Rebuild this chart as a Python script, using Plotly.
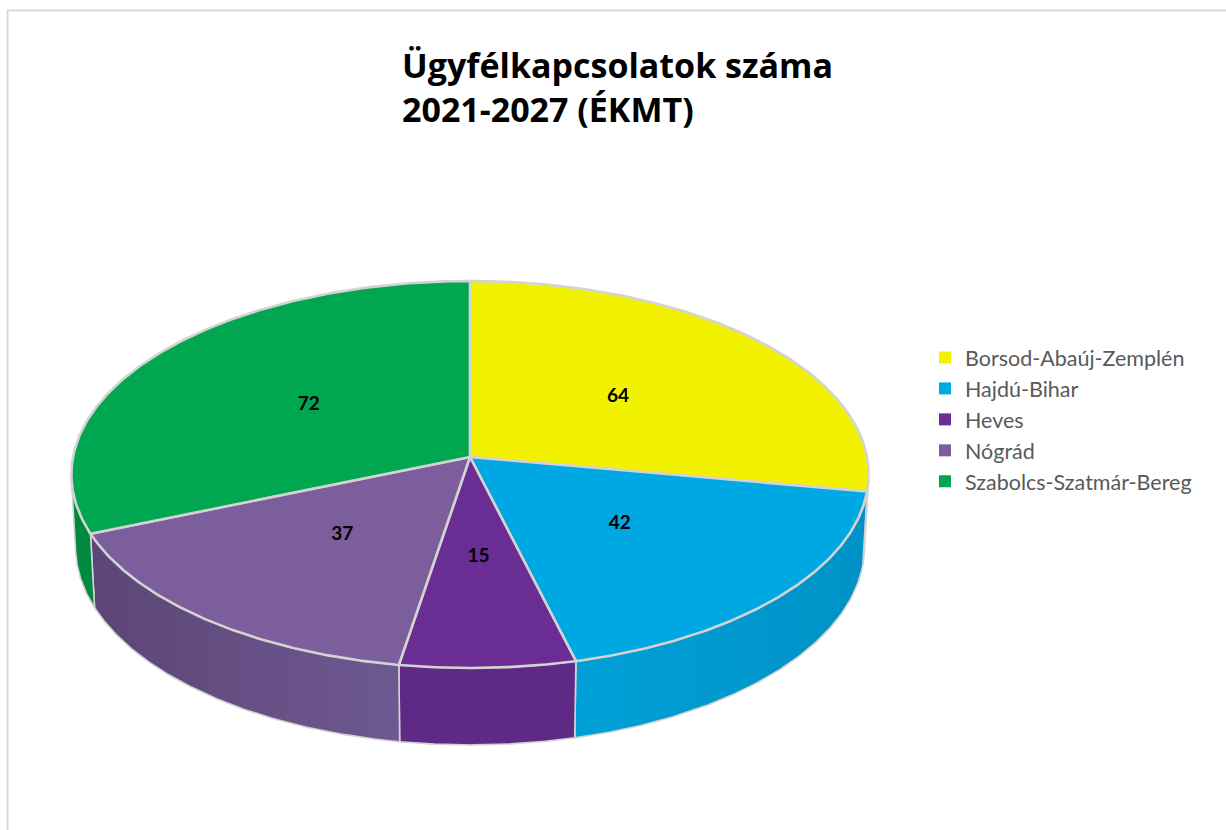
import numpy as np
import plotly.graph_objects as go

# ---- data ----
categories = ["Borsod-Abaúj-Zemplén", "Hajdú-Bihar", "Heves", "Nógrád", "Szabolcs-Szatmár-Bereg"]
values = [64, 42, 15, 37, 72]
title_lines = ["Ügyfélkapcsolatok száma", "2021-2027 (ÉKMT)"]

# ---- styles ----
top_colors = ["#f2f200", "#00a8e3", "#6a2d93", "#7b5e9b", "#00a650"]
side_left = ["#d4d400", "#00a0d7", "#5f2a86", "#5c4676", "#008a3f"]
side_right = ["#dada00", "#0092c6", "#5f2a86", "#6e5891", "#008a3f"]
EDGE = "#d3d3d3"
W, H = 1226, 830

# ---- simple perspective model of a tilted disc ----
CX, CY = 470.0, 457.0
P = 3839.0          # focal scale (px)
DR = 9.67           # camera distance / radius
SIN_E, COS_E = 0.4835, 0.875
THICK = 0.21        # pie thickness / radius
VIS_LO, VIS_HI = 96.8, 263.2  # visible part of the outer wall


def proj(theta_deg, rad=1.0, height=0.0):
    t = np.radians(theta_deg)
    x = rad * np.sin(t)
    z = rad * np.cos(t)
    depth = DR + z * COS_E - height * SIN_E
    sx = CX + P * x / depth
    sy = CY - P * (height * COS_E + z * SIN_E) / depth
    return sx, sy


total = float(sum(values))
ends = np.cumsum(values) / total * 360.0
starts = np.concatenate([[0.0], ends[:-1]])

fig = go.Figure()

# outer walls
for i, (a0, a1) in enumerate(zip(starts, ends)):
    lo, hi = max(a0, VIS_LO), min(a1, VIS_HI)
    if lo >= hi:
        continue
    th = np.linspace(lo, hi, 120)
    tx, ty = proj(th)
    bx, by = proj(th[::-1], height=-THICK)
    xs = np.concatenate([tx, bx, tx[:1]])
    ys = np.concatenate([ty, by, ty[:1]])
    fig.add_trace(go.Scatter(
        x=xs, y=ys, mode="lines", fill="toself",
        fillcolor=side_left[i],
        fillgradient=dict(type="horizontal",
                          colorscale=[[0, side_left[i]], [1, side_right[i]]]),
        line=dict(color=EDGE, width=1.6),
        hoverinfo="skip", showlegend=False))

# top faces
for i, (a0, a1) in enumerate(zip(starts, ends)):
    th = np.linspace(a0, a1, 200)
    ax, ay = proj(th)
    xs = np.concatenate([[CX], ax, [CX]])
    ys = np.concatenate([[CY], ay, [CY]])
    fig.add_trace(go.Scatter(
        x=xs, y=ys, mode="lines", fill="toself",
        fillcolor=top_colors[i],
        line=dict(color=EDGE, width=2.6),
        hoverinfo="skip", showlegend=False))

# data labels
mids = (starts + ends) / 2.0
lx, ly = proj(mids, rad=0.5)
fig.add_trace(go.Scatter(
    x=lx, y=ly, mode="text", text=[str(v) for v in values],
    textfont=dict(family="Lato", size=19, color="#000000", weight="bold"),
    hoverinfo="skip", showlegend=False))

# legend entries
for cat, col in zip(categories, top_colors):
    fig.add_trace(go.Scatter(
        x=[None], y=[None], mode="markers", name=cat, legendgroup=cat,
        marker=dict(symbol="square", size=12, color=col, line=dict(width=0))))

# chart area border
fig.add_shape(type="rect", xref="x", yref="y", x0=7.5, y0=10.5, x1=1232, y1=840,
              line=dict(color="#d9d9d9", width=2), fillcolor="rgba(0,0,0,0)", layer="below")

# title (one left-aligned, two-line text)
fig.add_annotation(text="<br>".join(title_lines), xref="x", yref="y", x=400, y=87,
                   xanchor="left", yanchor="middle", align="left", showarrow=False,
                   font=dict(family="Open Sans", size=34, color="#000000", weight="bold"))

fig.update_layout(
    width=W, height=H,
    margin=dict(l=0, r=0, t=0, b=0),
    paper_bgcolor="white", plot_bgcolor="white",
    xaxis=dict(range=[0, W], visible=False, fixedrange=True),
    yaxis=dict(range=[H, 0], visible=False, fixedrange=True),
    showlegend=True,
    legend=dict(x=925 / W, y=1 - 337 / H, xanchor="left", yanchor="top",
                font=dict(family="Lato", size=21.5, color="#595959"),
                bgcolor="rgba(0,0,0,0)", tracegroupgap=6.8, traceorder="normal"),
)

fig.write_html("out.html")
